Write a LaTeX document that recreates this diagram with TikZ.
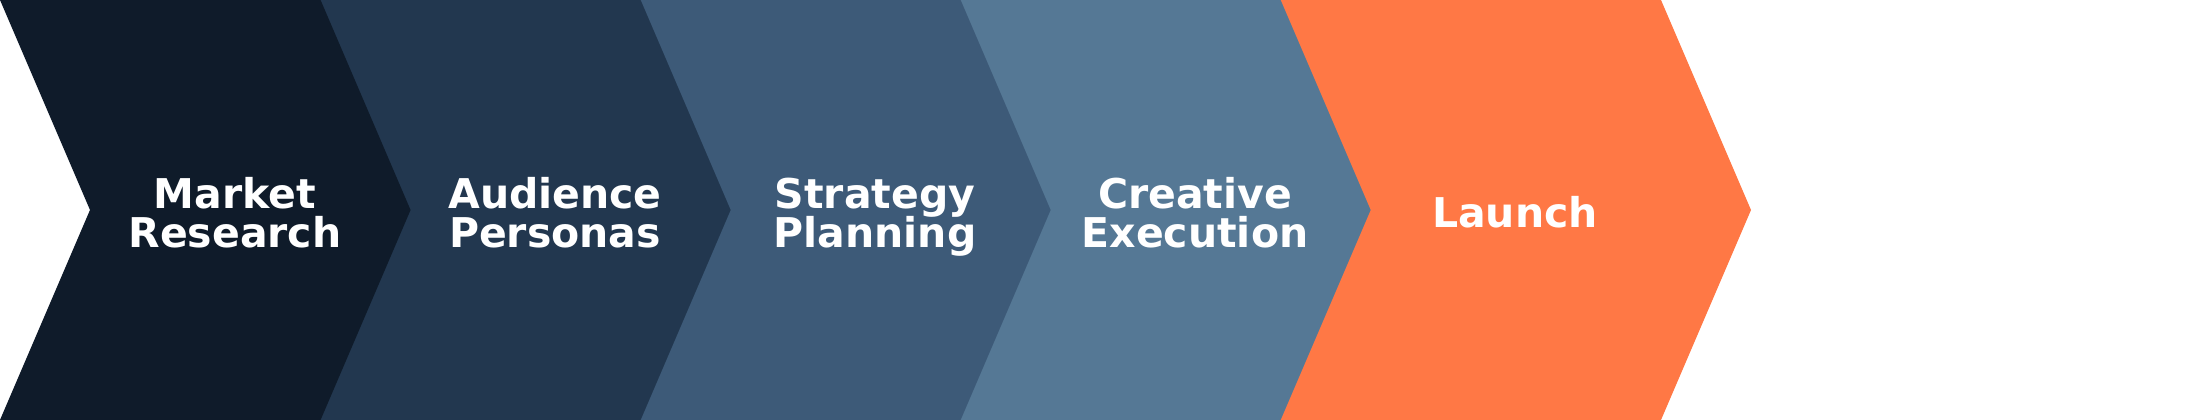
\documentclass[tikz,border=0pt]{standalone}
\usepackage{fontspec}
\setmainfont{DejaVu Sans}
\definecolor{cA}{HTML}{0F1B2A}
\definecolor{cB}{HTML}{22374F}
\definecolor{cC}{HTML}{3D5A78}
\definecolor{cD}{HTML}{557895}
\definecolor{cE}{HTML}{FF7845}
\tikzset{
  label text/.style={text=white, font=\bfseries\fontsize{41}{39}\selectfont, align=center, inner sep=0pt, anchor=center},
}
\begin{document}
\begin{tikzpicture}[x=1pt,y=1pt]
\useasboundingbox (0,0) rectangle (2200,420);
% chevrons, drawn right to left so each tip overlaps its neighbour's notch slightly
\fill[cE] (1280,420) -- (1661,420) -- (1751,210) -- (1661,0) -- (1280,0) -- (1370,210) -- cycle;
\fill[cD] (960,420) -- (1280.6,420) -- (1370.6,210) -- (1280.6,0) -- (960,0) -- (1050,210) -- cycle;
\fill[cC] (640,420) -- (960.6,420) -- (1050.6,210) -- (960.6,0) -- (640,0) -- (730,210) -- cycle;
\fill[cB] (320,420) -- (640.6,420) -- (730.6,210) -- (640.6,0) -- (320,0) -- (410,210) -- cycle;
\fill[cA] (0,420) -- (320.6,420) -- (410.6,210) -- (320.6,0) -- (0,0) -- (90,210) -- cycle;
% labels
\node[label text] (market) at (235,192) {\smash{Market}\\\smash{Research}};
\node[label text] (audience) at (555,192) {\smash{Audience}\\\smash{Personas}};
\node[label text] (strategy) at (875,192) {\smash{Strategy}\\\smash{Planning}};
\node[label text] (creative) at (1195,192) {\smash{Creative}\\\smash{Execution}};
\node[label text] (launch) at (1515,192) {\smash{Launch}};
\end{tikzpicture}
\end{document}
